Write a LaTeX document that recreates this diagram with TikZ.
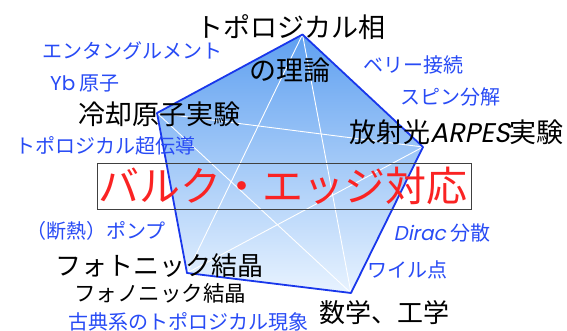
\documentclass[tikz,border=0pt]{standalone}
\usepackage{fontspec}
\newfontfamily\jp{Noto Sans CJK JP}
\newfontfamily\lat{Poppins}
\newfontfamily\latit[FakeSlant=0.2]{Poppins}
\definecolor{txtblue}{RGB}{40,75,245}
\definecolor{txtred}{RGB}{250,35,35}
\definecolor{edgeblue}{RGB}{25,55,235}
\definecolor{filltop}{RGB}{95,160,240}
\definecolor{fillbot}{RGB}{232,243,255}
\tikzset{
  bigtxt/.style={font=\jp\fontsize{27}{30}\selectfont, text=black, inner sep=0pt},
  midtxt/.style={font=\jp\fontsize{26}{29}\selectfont, text=black, inner sep=0pt},
  smalltxt/.style={font=\jp\fontsize{21.5}{24}\selectfont, text=black, inner sep=0pt},
  bluetxt/.style={font=\jp\fontsize{20}{22}\selectfont, text=txtblue, inner sep=0pt},
  starline/.style={white, line width=0.9pt},
  edgeline/.style={edgeblue, line width=1.8pt, line join=round},
}
\begin{document}
\begin{tikzpicture}[x=1pt,y=-1pt]
\useasboundingbox (0,0) rectangle (567,331);
\coordinate (T) at (302.5,34.5);
\coordinate (R) at (423,147);
\coordinate (BR) at (351,293);
\coordinate (BL) at (187,273);
\coordinate (L) at (157,113);
\shade[top color=filltop, bottom color=fillbot] (T) -- (R) -- (BR) -- (BL) -- (L) -- cycle;
\draw[starline] (T) -- (BL);
\draw[starline] (T) -- (BR);
\draw[starline] (L) -- (R);
\draw[starline] (L) -- (BR);
\draw[starline] (R) -- (BL);
\draw[edgeline] (T) -- (R) -- (BR) -- (BL) -- (L) -- cycle;
\node[draw=black!75, line width=0.7pt, minimum width=374pt, minimum height=46pt, inner sep=0pt] (box) at (284,186) {};
\node[font=\jp\fontsize{41}{44}\selectfont, text=txtred, inner sep=0pt] (bulk) at (283,186) {バルク・エッジ対応};
\node[bigtxt] (topo) at (290.5,27) {トポロジカル相};
\node[bigtxt] (riron) at (290,70) {の理論};
\node[bigtxt] (reikyaku) at (159.5,114) {冷却原子実験};
\node[bigtxt] (arpes) at (456.5,132) {放射光{\latit ARPES}実験};
\node[midtxt] (photonic) at (159.5,266) {フォトニック結晶};
\node[smalltxt] (phononic) at (160,293) {フォノニック結晶};
\node[midtxt] (math) at (384.5,313) {数学、工学};
\node[bluetxt] (ent) at (132,51) {エンタングルメント};
\node[bluetxt] (yb) at (85,83) {{\lat Yb} 原子};
\node[bluetxt] (sc) at (105,146) {トポロジカル超伝導};
\node[bluetxt] (pump) at (96,231) {（断熱）ポンプ};
\node[bluetxt] (classic) at (188,322) {古典系のトポロジカル現象};
\node[bluetxt] (berry) at (413.5,65) {ベリー接続};
\node[bluetxt] (spin) at (450.5,97) {スピン分解};
\node[bluetxt] (dirac) at (442,233) {{\latit Dirac} 分散};
\node[bluetxt] (weyl) at (407.5,270) {ワイル点};
\end{tikzpicture}
\end{document}
